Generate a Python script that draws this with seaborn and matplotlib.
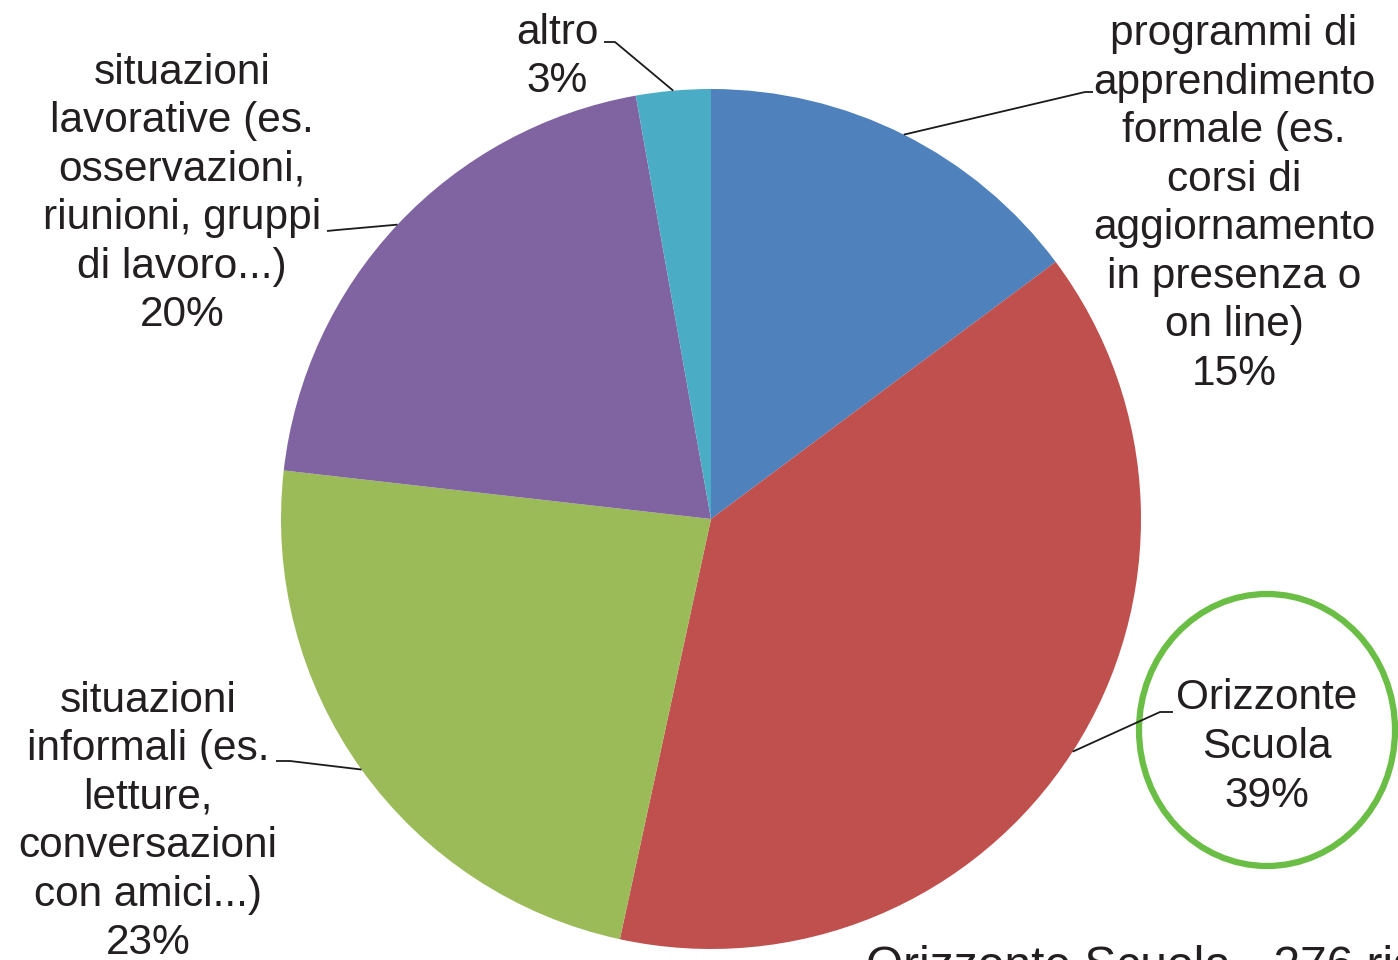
import numpy as np
import matplotlib
matplotlib.use("Agg")
import matplotlib.pyplot as plt
from matplotlib.patches import Ellipse
import seaborn as sns

# ---- data ----
categories = [
    "programmi di\napprendimento\nformale (es.\ncorsi di\naggiornamento\nin presenza o\non line)",
    "Orizzonte\nScuola",
    "situazioni\ninformali (es.\nletture,\nconversazioni\ncon amici...)",
    "situazioni\nlavorative (es.\nosservazioni,\nriunioni, gruppi\ndi lavoro...)",
    "altro",
]
values = [14.8, 38.6, 23.4, 20.4, 2.8]
colors = ["#4F81BD", "#C0504D", "#9BBB59", "#8064A2", "#4BACC6"]
footer = "Orizzonte Scuola - 276 risposte"

sns.set_theme(style="white")
plt.rcParams["font.family"] = ["Liberation Sans", "DejaVu Sans"]

W, H = 1398, 960
fig = plt.figure(figsize=(W / 100, H / 100), dpi=100)
ax = fig.add_axes([0, 0, 1, 1])

cx, cy, R = 711, H - 519, 430
wedges, _ = ax.pie(values, colors=colors, startangle=90, counterclock=False,
                   center=(cx, cy), radius=R, frame=True,
                   wedgeprops=dict(linewidth=0))
ax.set_xlim(0, W)
ax.set_ylim(0, H)
ax.set_aspect("equal")
ax.axis("off")

total = sum(values)
# label layout: (text center x, text center y (pixel from top), elbow pts)
layout = [
    (1234, 204, [(1085, 92), (1093, 92)]),
    (1267, 747, [(1160, 712), (1173, 712)]),
    (148, 822, [(290, 761), (276, 761)]),
    (182, 194, [(337, 230), (327, 231)]),
    (557, 57, [(615, 42), (604, 42)]),
]

cum = 0.0
for cat, v, (tx, ty, elbow) in zip(categories, values, layout):
    mid = cum + v / 2
    cum += v
    ang = np.deg2rad(90 - 360 * mid / total)
    ax_, ay_ = cx + R * np.cos(ang), cy + R * np.sin(ang)
    xs = [ax_] + [p[0] for p in elbow]
    ys = [ay_] + [H - p[1] for p in elbow]
    ax.plot(xs, ys, color="#1a1a1a", lw=1.3, solid_capstyle="butt")
    pct = round(100 * v / total)
    ax.text(tx, H - ty, f"{cat}\n{pct}%", ha="center", va="center",
            multialignment="center", fontsize=30.5, color="#231f20",
            linespacing=1.275)

ax.add_patch(Ellipse((1267, H - 730), 256, 272, fill=False,
                     edgecolor="#6BBE45", lw=4.5))

# footer note, partly running off the bottom/right edge as in the original
ax.text(866, H - 980, footer, ha="left", va="baseline", fontsize=34.5,
        color="#231f20")

fig.savefig("out.png", dpi=100)
